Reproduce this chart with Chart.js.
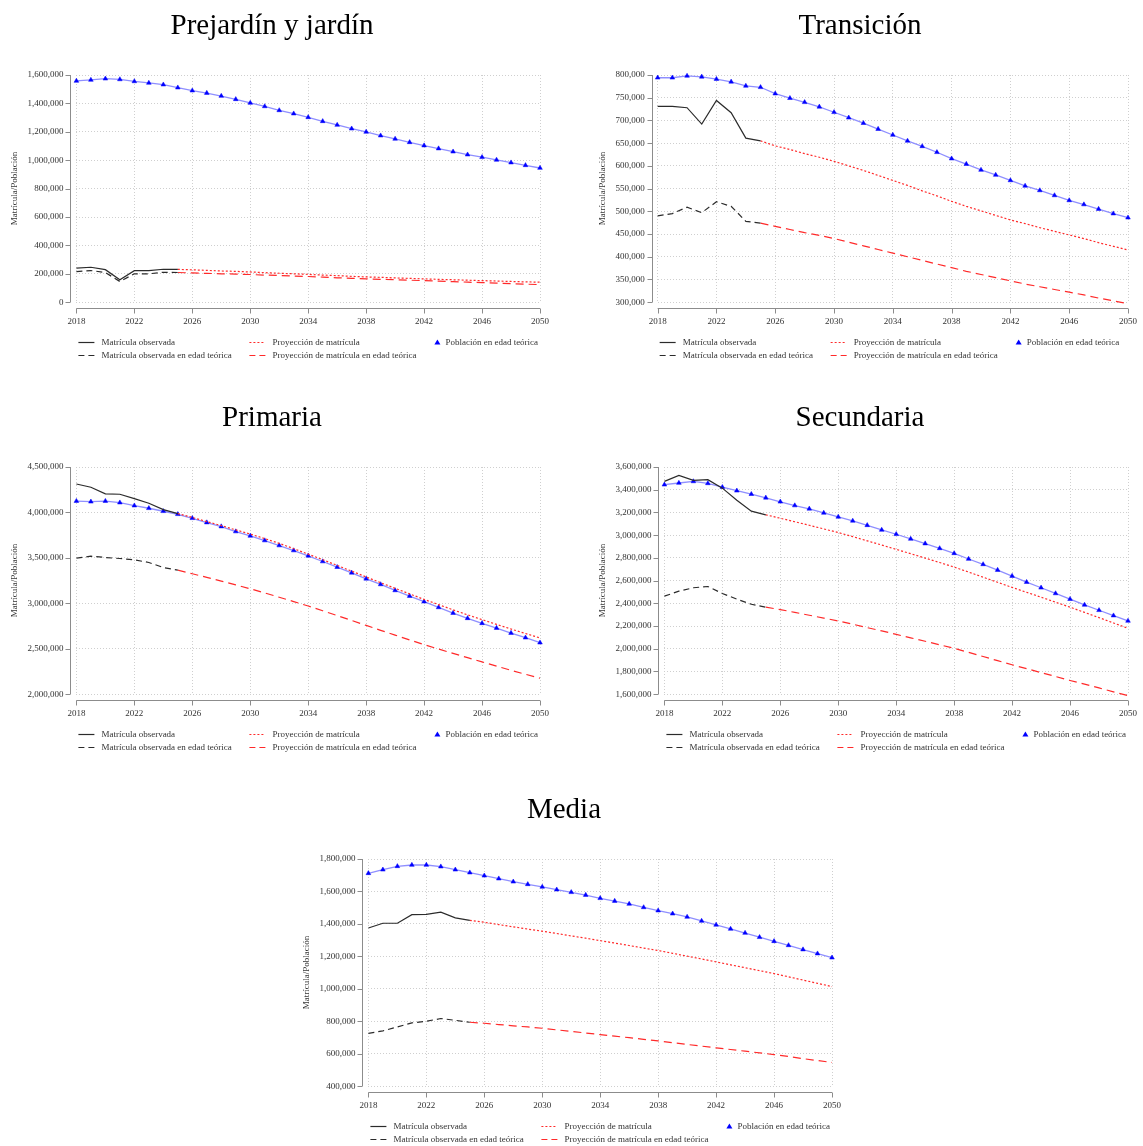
<!DOCTYPE html>
<html lang="es">
<head>
<meta charset="utf-8">
<title>Matrícula y población por nivel</title>
<script src="https://cdn.jsdelivr.net/npm/chart.js@4.4.1/dist/chart.umd.min.js"></script>
<style>
  html, body { margin: 0; padding: 0; background: #fff; }
  body { width: 1143px; height: 1146px; position: relative; overflow: hidden; }
  canvas { position: absolute; }
</style>
</head>
<body>
<canvas id="c1" width="560" height="365" style="left:0;top:0"></canvas>
<canvas id="c2" width="563" height="365" style="left:580px;top:0"></canvas>
<canvas id="c3" width="560" height="365" style="left:0;top:392px"></canvas>
<canvas id="c4" width="563" height="365" style="left:580px;top:392px"></canvas>
<canvas id="c5" width="560" height="362" style="left:292px;top:784px"></canvas>
<script>
// --- DATOS (2018-2050) ---
const years = [2018, 2019, 2020, 2021, 2022, 2023, 2024, 2025, 2026, 2027, 2028, 2029, 2030, 2031, 2032, 2033, 2034,
               2035, 2036, 2037, 2038, 2039, 2040, 2041, 2042, 2043, 2044, 2045, 2046, 2047, 2048, 2049, 2050];

const seriesNames = ['Matrícula observada', 'Matrícula observada en edad teórica',
                     'Proyección de matrícula', 'Proyección de matrícula en edad teórica',
                     'Población en edad teórica'];

// Prejardín y jardín
const preObs     = [240000, 246000, 229000, 158000, 222000, 222000, 232000, 231000];
const preObsEdad = [216000, 223000, 209000, 146000, 200000, 200000, 211000, 209000];
const preProj    = [null, null, null, null, null, null, null, 231000, 228000, 224000, 220000, 217000, 213000, 208000, 204000,
                    200000, 196000, 191000, 187000, 182000, 178000, 175000, 171000, 168000, 164000, 161000, 158000, 155000,
                    152000, 149000, 146000, 143000, 141000];
const preProjEdad = [null, null, null, null, null, null, null, 209000, 206000, 203000, 200000, 198000, 195000, 191000, 188000,
                     184000, 181000, 177000, 172000, 168000, 164000, 161000, 158000, 155000, 152000, 148000, 145000, 141000,
                     138000, 134000, 131000, 127000, 124000];
const prePob     = [1558000, 1565000, 1574000, 1569000, 1555000, 1544000, 1532000, 1511000, 1490000, 1473000, 1452000,
                    1429000, 1403000, 1379000, 1351000, 1328000, 1302000, 1274000, 1248000, 1222000, 1199000, 1173000,
                    1150000, 1126000, 1103000, 1082000, 1060000, 1039000, 1021000, 1002000, 983000, 964000, 945000];

// Transición
const traObs     = [731000, 731000, 728000, 692000, 744000, 717000, 661000, 655000];
const traObsEdad = [490000, 495000, 509000, 497000, 521000, 511000, 478000, 474000];
const traProj    = [null, null, null, null, null, null, null, 655000, 644000, 636000, 627000, 619000, 610000, 600000, 590000,
                    579000, 568000, 557000, 545000, 534000, 522000, 511000, 501000, 491000, 481000, 473000, 464000, 456000,
                    448000, 440000, 431000, 423000, 415000];
const traProjEdad = [null, null, null, null, null, null, null, 474000, 467000, 460000, 453000, 447000, 440000, 432000, 424000,
                     416000, 408000, 400000, 392000, 384000, 376000, 368000, 361000, 354000, 347000, 340000, 334000, 328000,
                     322000, 316000, 309000, 303000, 297000];
const traPob     = [794000, 794000, 798000, 796000, 791000, 785000, 776000, 773000, 759000, 749000, 740000, 730000, 718000,
                    706000, 694000, 681000, 668000, 655000, 643000, 630000, 616000, 604000, 591000, 580000, 568000, 556000,
                    546000, 535000, 524000, 515000, 505000, 495000, 486000];

// Primaria
const priObs     = [4313000, 4277000, 4204000, 4200000, 4152000, 4101000, 4031000, 3987000];
const priObsEdad = [3497000, 3519000, 3504000, 3493000, 3479000, 3449000, 3394000, 3365000];
const priProj    = [null, null, null, null, null, null, null, 3987000, 3945000, 3899000, 3855000, 3808000, 3762000, 3712000,
                    3660000, 3601000, 3541000, 3480000, 3417000, 3354000, 3290000, 3227000, 3165000, 3104000, 3043000,
                    2986000, 2928000, 2873000, 2820000, 2768000, 2717000, 2668000, 2619000];
const priProjEdad = [null, null, null, null, null, null, null, 3365000, 3325000, 3286000, 3245000, 3203000, 3160000, 3114000,
                     3067000, 3019000, 2970000, 2918000, 2865000, 2811000, 2757000, 2703000, 2650000, 2597000, 2545000,
                     2497000, 2449000, 2402000, 2355000, 2309000, 2263000, 2219000, 2176000];
const priPob     = [4125000, 4118000, 4125000, 4108000, 4075000, 4046000, 4013000, 3980000, 3936000, 3889000, 3845000,
                    3790000, 3742000, 3691000, 3636000, 3581000, 3523000, 3460000, 3398000, 3336000, 3270000, 3208000,
                    3142000, 3080000, 3018000, 2955000, 2893000, 2835000, 2780000, 2728000, 2673000, 2622000, 2567000];

// Secundaria
const secObs     = [3473000, 3526000, 3482000, 3488000, 3414000, 3308000, 3211000, 3179000];
const secObsEdad = [2463000, 2507000, 2537000, 2548000, 2487000, 2437000, 2392000, 2366000];
const secProj    = [null, null, null, null, null, null, null, 3179000, 3149000, 3118000, 3087000, 3055000, 3023000, 2987000,
                    2950000, 2913000, 2875000, 2837000, 2798000, 2759000, 2719000, 2675000, 2630000, 2585000, 2540000,
                    2497000, 2454000, 2410000, 2366000, 2320000, 2274000, 2227000, 2180000];
const secProjEdad = [null, null, null, null, null, null, null, 2366000, 2345000, 2320000, 2295000, 2270000, 2245000, 2216000,
                     2186000, 2157000, 2127000, 2096000, 2066000, 2035000, 2004000, 1968000, 1932000, 1895000, 1859000,
                     1825000, 1790000, 1756000, 1721000, 1688000, 1655000, 1621000, 1588000];
const secPob     = [3444000, 3459000, 3473000, 3456000, 3423000, 3391000, 3361000, 3329000, 3294000, 3261000, 3232000,
                    3196000, 3161000, 3126000, 3087000, 3046000, 3008000, 2967000, 2926000, 2884000, 2840000, 2790000,
                    2743000, 2693000, 2640000, 2587000, 2537000, 2487000, 2437000, 2386000, 2339000, 2292000, 2245000];

// Media
const medObs     = [1375000, 1404000, 1404000, 1457000, 1459000, 1472000, 1437000, 1422000];
const medObsEdad = [726000, 741000, 765000, 790000, 800000, 817000, 806000, 794000];
const medProj    = [null, null, null, null, null, null, null, 1422000, 1410000, 1396000, 1382000, 1368000, 1355000, 1341000,
                    1326000, 1312000, 1297000, 1282000, 1267000, 1251000, 1236000, 1219000, 1201000, 1184000, 1166000,
                    1148000, 1130000, 1112000, 1094000, 1074000, 1054000, 1034000, 1014000];
const medProjEdad = [null, null, null, null, null, null, null, 794000, 788000, 780000, 772000, 765000, 757000, 747000,
                     738000, 728000, 718000, 708000, 699000, 689000, 679000, 668000, 657000, 647000, 636000, 626000,
                     616000, 605000, 595000, 583000, 570000, 558000, 546000];
const medPob     = [1712000, 1734000, 1755000, 1763000, 1763000, 1753000, 1734000, 1716000, 1697000, 1679000, 1660000,
                    1644000, 1628000, 1611000, 1595000, 1578000, 1558000, 1541000, 1523000, 1502000, 1482000, 1463000,
                    1443000, 1418000, 1394000, 1369000, 1344000, 1318000, 1293000, 1268000, 1242000, 1217000, 1192000];

// Ejes Y: [min, max, paso]
const preAxis = [0, 1600000, 200000];
const traAxis = [300000, 800000, 50000];
const priAxis = [2000000, 4500000, 500000];
const secAxis = [1600000, 3600000, 200000];
const medAxis = [400000, 1800000, 200000];

const SERIF = '"Liberation Serif", "Times New Roman", serif';
Chart.defaults.font.family = SERIF;
Chart.defaults.color = '#333';

// Ejes estilo Stata: separados del área de datos, solo entre el primer y último tick
const stataAxes = {
    id: 'stataAxes',
    afterDraw(chart) {
        const { ctx, chartArea, scales: { x, y } } = chart;
        ctx.save();
        ctx.strokeStyle = '#8c8c8c';
        ctx.lineWidth = 1;
        ctx.beginPath();
        const ax = Math.round(chartArea.left - 6) + 0.5;
        ctx.moveTo(ax, y.getPixelForValue(y.max));
        ctx.lineTo(ax, y.getPixelForValue(y.min));
        y.ticks.forEach(t => {
            const py = Math.round(y.getPixelForValue(t.value)) + 0.5;
            ctx.moveTo(ax, py);
            ctx.lineTo(ax - 5, py);
        });
        const ay = Math.round(chartArea.bottom + 6) + 0.5;
        ctx.moveTo(x.getPixelForValue(x.min), ay);
        ctx.lineTo(x.getPixelForValue(x.max), ay);
        x.ticks.forEach(t => {
            const px = Math.round(x.getPixelForValue(t.value)) + 0.5;
            ctx.moveTo(px, ay);
            ctx.lineTo(px, ay + 5);
        });
        ctx.stroke();
        ctx.restore();
    }
};

// Leyenda en rejilla (columnas primero, dos filas)
const gridLegend = {
    id: 'gridLegend',
    afterDraw(chart) {
        const { ctx, chartArea } = chart;
        const cols = [2, 173, 361];
        const rows = [40, 53];
        ctx.save();
        ctx.font = '9px ' + SERIF;
        ctx.textBaseline = 'middle';
        ctx.fillStyle = '#333';
        chart.data.datasets.forEach((ds, i) => {
            const x = chartArea.left + cols[Math.floor(i / 2)];
            const y = Math.round(chartArea.bottom + rows[i % 2]) + 0.5;
            if (ds.pointStyle === 'triangle') {
                ctx.fillStyle = ds.pointBackgroundColor;
                ctx.beginPath();
                ctx.moveTo(x, y - 3);
                ctx.lineTo(x + 3, y + 2);
                ctx.lineTo(x - 3, y + 2);
                ctx.closePath();
                ctx.fill();
                ctx.fillStyle = '#333';
                ctx.fillText(ds.label, x + 8, y);
            } else {
                ctx.strokeStyle = ds.borderColor;
                ctx.lineWidth = 1.2;
                ctx.setLineDash(ds.legendDash);
                ctx.beginPath();
                ctx.moveTo(x, y);
                ctx.lineTo(x + 16, y);
                ctx.stroke();
                ctx.setLineDash([]);
                ctx.fillText(ds.label, x + 23, y);
            }
        });
        ctx.restore();
    }
};

function lineSet(label, data, color, dash, legendDash) {
    return {
        label: label,
        data: data,
        borderColor: color,
        backgroundColor: color,
        borderWidth: 1.2,
        borderDash: dash,
        legendDash: legendDash,
        pointRadius: 0,
        tension: 0,
        spanGaps: false,
        clip: false
    };
}

function makeChart(id, title, axis, obs, obsEdad, proj, projEdad, pob, pad) {
    const ctx = document.getElementById(id).getContext('2d');
    return new Chart(ctx, {
        type: 'line',
        data: {
            labels: years,
            datasets: [
                lineSet(seriesNames[0], obs, '#2b2b2b', [], []),
                lineSet(seriesNames[1], obsEdad, '#2b2b2b', [6, 4], [6, 4]),
                lineSet(seriesNames[2], proj, '#ff2a2a', [2, 2], [2, 2]),
                lineSet(seriesNames[3], projEdad, '#ff2a2a', [8, 5], [6, 4]),
                {
                    label: seriesNames[4],
                    data: pob,
                    borderColor: '#8f8fff',
                    borderWidth: 1.3,
                    pointStyle: 'triangle',
                    pointRadius: 2.7,
                    pointBackgroundColor: '#0000ff',
                    pointBorderColor: '#0000ff',
                    pointBorderWidth: 0.5,
                    tension: 0,
                    clip: false
                }
            ]
        },
        options: {
            responsive: false,
            animation: false,
            events: [],
            layout: { padding: pad },
            plugins: {
                legend: { display: false },
                tooltip: { enabled: false },
                title: {
                    display: true,
                    text: title,
                    color: '#000',
                    font: { family: SERIF, size: 29, weight: 'normal', lineHeight: 1.2 },
                    padding: { top: 8.6, bottom: 31.6 }
                }
            },
            scales: {
                x: {
                    type: 'linear',
                    min: 2018,
                    max: 2050,
                    // marcas invisibles: solo dan el hueco entre eje y etiquetas
                    grid: { color: '#cfcfcf', drawTicks: true, tickLength: 8, tickColor: 'rgba(0,0,0,0)' },
                    border: { display: false, dash: [1, 2] },
                    ticks: {
                        stepSize: 4,
                        padding: 6,
                        maxRotation: 0,
                        font: { size: 9, lineHeight: 1.2 },
                        callback: v => String(v)
                    }
                },
                y: {
                    min: axis[0],
                    max: axis[1],
                    grid: { color: '#cfcfcf', drawTicks: true, tickLength: 8, tickColor: 'rgba(0,0,0,0)' },
                    border: { display: false, dash: [1, 2] },
                    title: {
                        display: true,
                        text: 'Matrícula/Población',
                        font: { size: 9, lineHeight: 1.2 },
                        padding: { top: 5, bottom: 2.6 }
                    },
                    ticks: {
                        stepSize: axis[2],
                        padding: 5,
                        maxTicksLimit: 20,
                        font: { size: 9, lineHeight: 1.2 },
                        callback: v => v.toLocaleString('en-US')
                    }
                }
            }
        },
        plugins: [stataAxes, gridLegend]
    });
}

makeChart('c1', 'Prejardín y jardín', preAxis, preObs, preObsEdad, preProj, preProjEdad, prePob,
          { left: 4, right: 20, top: 0, bottom: 32 });
makeChart('c2', 'Transición', traAxis, traObs, traObsEdad, traProj, traProjEdad, traPob,
          { left: 12, right: 15, top: 0, bottom: 32 });
makeChart('c3', 'Primaria', priAxis, priObs, priObsEdad, priProj, priProjEdad, priPob,
          { left: 4, right: 20, top: 0, bottom: 32 });
makeChart('c4', 'Secundaria', secAxis, secObs, secObsEdad, secProj, secProjEdad, secPob,
          { left: 12, right: 15, top: 0, bottom: 32 });
makeChart('c5', 'Media', medAxis, medObs, medObsEdad, medProj, medProjEdad, medPob,
          { left: 4, right: 20, top: 0, bottom: 29 });
</script>
</body>
</html>
